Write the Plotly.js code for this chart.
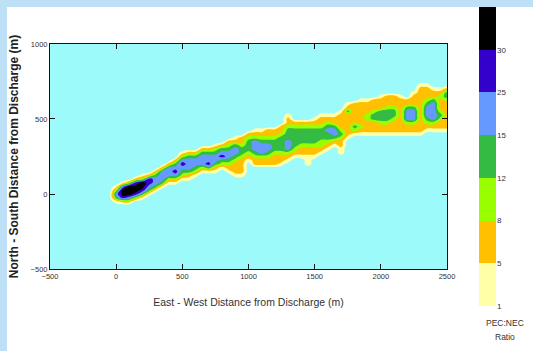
<!DOCTYPE html>
<html><head><meta charset="utf-8">
<script src="https://cdn.plot.ly/plotly-3.0.1.min.js"></script>
<style>
html,body{margin:0;padding:0;background:#bee0f7;width:533px;height:351px;overflow:hidden}
#chart{position:absolute;left:7px;top:7px;width:526px;height:344px;background:#fff}
</style></head><body><div id="chart"></div>
<script>
// East-West grid positions (m) and North-South grid positions (m)
const xDist = [-100,-50,0,50,100,150,200,250,300,350,400,450,500,550,600,650,700,750,800,850,900,950,
  1000,1050,1100,1150,1200,1250,1300,1350,1400,1450,1500,1550,1600,1650,1700,1750,1800,1850,1900,1950,
  2000,2050,2100,2150,2200,2250,2300,2350,2400,2450,2500];
const yDist = [-100,-75,-50,-25,0,25,50,75,100,125,150,175,200,225,250,275,300,325,350,375,400,425,450,
  475,500,525,550,575,600,625,650,675,700,725,750];
// PEC:NEC band labels (band boundaries) and band colours (below 1 ... above 30)
const bandLabels = ['1','5','8','12','15','25','30'];
const bandColors = ['#9cfafa','#ffffa8','#ffc000','#99ff00','#33bb44','#6699ff','#3300cc','#000000'];
// Colour-bar bands (1..7 = 1-5, 5-8, 8-12, 12-15, 15-25, 25-30, >30)
const legendBands = [1,2,3,4,5,6,7];
// Ratio band read at each grid node, one string per East-West column (bottom y=-100 to top y=750).
// 0 = below 1, 1 = 1-5, 2 = 5-8, 3 = 8-12, 4 = 12-15, 5 = 15-25, 6 = 25-30, 7 = above 30
const ratioBandByColumn = [
  '00000 00000 00000 00000 00000 00000 00000', // -100
  '00000 00000 00000 00000 00000 00000 00000', // -50
  '00145 31000 00000 00000 00000 00000 00000', // 0
  '00267 75100 00000 00000 00000 00000 00000', // 50
  '00257 77300 00000 00000 00000 00000 00000', // 100
  '00036 77620 00000 00000 00000 00000 00000', // 150
  '00014 67731 00000 00000 00000 00000 00000', // 200
  '00001 45662 00000 00000 00000 00000 00000', // 250
  '00000 14554 20000 00000 00000 00000 00000', // 300
  '00000 01455 52000 00000 00000 00000 00000', // 350
  '00000 00135 55200 00000 00000 00000 00000', // 400
  '00000 00135 65420 00000 00000 00000 00000', // 450
  '00000 00013 45653 10000 00000 00000 00000', // 500
  '00000 00012 45554 20000 00000 00000 00000', // 550
  '00000 00001 34554 20000 00000 00000 00000', // 600
  '00000 00000 13555 42000 00000 00000 00000', // 650
  '00000 00000 14655 42000 00000 00000 00000', // 700
  '00000 00000 12455 43100 00000 00000 00000', // 750
  '00000 00000 01346 54200 00000 00000 00000', // 800
  '00000 00000 12345 54320 00000 00000 00000', // 850
  '00000 00001 22234 55421 00000 00000 00000', // 900
  '00000 00001 22223 44322 00000 00000 00000', // 950
  '00000 00000 00012 34443 20000 00000 00000', // 1000
  '00000 00000 00223 45553 21000 00000 00000', // 1050
  '00000 00000 00223 55543 21000 00000 00000', // 1100
  '00000 00000 00223 45543 22000 00000 00000', // 1150
  '00000 00000 00222 34443 22000 00000 00000', // 1200
  '00000 00000 00122 34444 32200 00000 00000', // 1250
  '00000 00000 00012 35554 44322 10000 00000', // 1300
  '00000 00000 00001 23444 44320 00000 00000', // 1350
  '00000 00000 00001 22344 44320 00000 00000', // 1400
  '00000 00000 00111 22344 44320 00000 00000', // 1450
  '00000 00000 00001 22344 44321 00000 00000', // 1500
  '00000 00000 00000 12334 44322 10000 00000', // 1550
  '00000 00000 00000 01234 45432 10000 00000', // 1600
  '00000 00000 00000 00124 55422 10000 00000', // 1650
  '00000 00000 00000 11223 43222 21000 00000', // 1700
  '00000 00000 00000 00001 22222 24210 00000', // 1750
  '00000 00000 00000 00000 13422 22220 00000', // 1800
  '00000 00000 00000 00000 12322 22221 00000', // 1850
  '00000 00000 00000 00000 12223 32221 00000', // 1900
  '00000 00000 00000 00000 12224 43222 00000', // 1950
  '00000 00000 00000 00000 12234 44222 10000', // 2000
  '00000 00000 00000 00000 12234 44322 20000', // 2050
  '00000 00000 00000 00000 12223 44322 20000', // 2100
  '00000 00000 00000 00000 12222 22222 10000', // 2150
  '00000 00000 00000 00000 12235 55422 00000', // 2200
  '00000 00000 00000 00000 12235 55422 21000', // 2250
  '00000 00000 00000 00000 12222 22222 22210', // 2300
  '00000 00000 00000 00000 01234 55543 22210', // 2350
  '00000 00000 00000 00000 01235 55554 22100', // 2400
  '00000 00000 00000 00000 01223 43222 32100', // 2450
  '00000 00000 00000 00000 01222 22223 44200'  // 2500
];

const zCols = ratioBandByColumn.map(s => s.replace(/ /g, '').split('').map(Number));

// stepped colour scale: band k (0..7) sits at k/7
const nb = bandColors.length - 1;
const colorscale = [];
bandColors.forEach((c, k) => {
  colorscale.push([Math.max(0, (k - 0.5) / nb), c]);
  colorscale.push([Math.min(1, (k + 0.5) / nb), c]);
});

const font = 'Liberation Sans, Arial, sans-serif';
const tickFont = {family: font, size: 7.5, color: '#333'};

const plume = {
  type: 'contour', x: xDist, y: yDist, z: zCols, transpose: true,
  autocontour: false,
  contours: {start: 0.5, end: 6.5, size: 1, coloring: 'fill', showlines: false},
  line: {width: 0},
  colorscale: colorscale, zmin: 0, zmax: nb, zauto: false,
  showscale: false, hoverinfo: 'skip'
};

const legendBar = {
  type: 'heatmap', xaxis: 'x2', yaxis: 'y2',
  x: [0], y: legendBands.map(b => b - 0.5), z: legendBands.map(b => [b]),
  colorscale: colorscale, zmin: 0, zmax: nb, zauto: false,
  showscale: false, hoverinfo: 'skip'
};

const axisCommon = {
  ticks: 'inside', ticklen: 5, tickwidth: 1, tickcolor: '#111',
  showline: true, linecolor: '#111', linewidth: 1, mirror: 'ticks',
  showgrid: false, zeroline: false, tickfont: tickFont
};

const layout = {
  width: 526, height: 344,
  margin: {l: 43, r: 37, t: 0, b: 45},
  paper_bgcolor: '#ffffff', plot_bgcolor: bandColors[0],
  showlegend: false,
  xaxis: Object.assign({}, axisCommon, {
    domain: [0, 0.8901], range: [-500, 2500],
    tickvals: [-500, 0, 500, 1000, 1500, 2000, 2500],
    title: {text: 'East - West Distance from Discharge (m)', standoff: 18,
      font: {family: font, size: 10.5, color: '#333'}}
  }),
  yaxis: Object.assign({}, axisCommon, {
    domain: [0.1237, 0.8763], range: [-500, 1000],
    tickvals: [-500, 0, 500, 1000],
    title: {text: 'North - South Distance from Discharge (m)', standoff: 12,
      font: {family: font, size: 12, color: '#222', weight: 'bold'}}
  }),
  xaxis2: {domain: [0.9619, 1], range: [-0.5, 0.5], visible: false, anchor: 'y2', fixedrange: true},
  yaxis2: {domain: [0, 1], range: [0, 7], anchor: 'x2', side: 'right',
    tickvals: [0, 1, 2, 3, 4, 5, 6], ticktext: bandLabels, ticks: '',
    showline: false, showgrid: false, zeroline: false,
    tickfont: {family: font, size: 8, color: '#333'}},
  annotations: [
    {text: 'PEC:NEC', xref: 'paper', yref: 'paper', x: 1.02, y: -0.057,
      xanchor: 'center', yanchor: 'middle',
      showarrow: false, font: {family: font, size: 8.5, color: '#333'}},
    {text: 'Ratio', xref: 'paper', yref: 'paper', x: 1.02, y: -0.104,
      xanchor: 'center', yanchor: 'middle',
      showarrow: false, font: {family: font, size: 8.5, color: '#333'}}
  ]
};

Plotly.newPlot('chart', [plume, legendBar], layout, {staticPlot: true, displayModeBar: false});
</script></body></html>
